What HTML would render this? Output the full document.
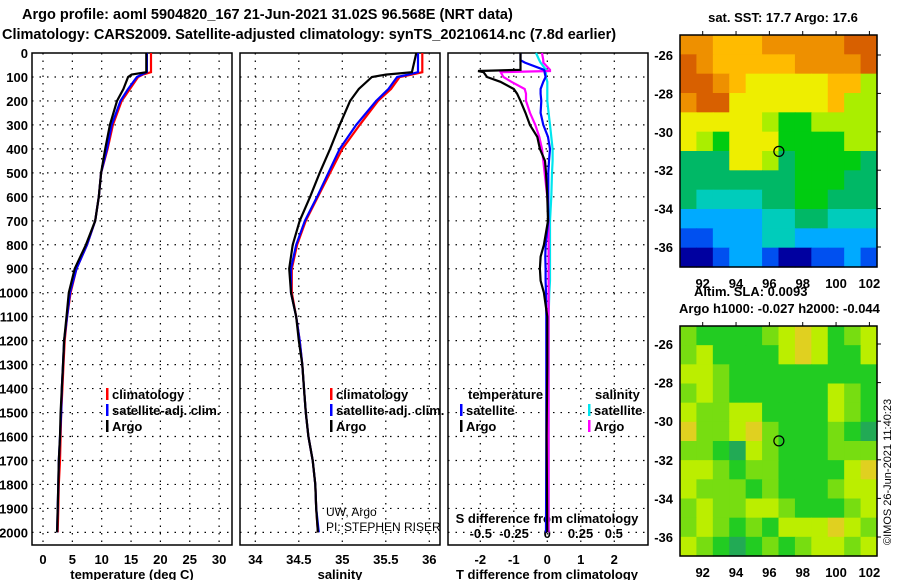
<!DOCTYPE html>
<html><head><meta charset="utf-8"><style>
body{margin:0;background:#fff;}
svg{display:block;font-family:"Liberation Sans",sans-serif;font-weight:bold;}
</style></head><body>
<svg id="c" width="900" height="580" viewBox="0 0 900 580">
<text x="22" y="19" font-size="14.5">Argo profile: aoml 5904820_167 21-Jun-2021 31.02S 96.568E (NRT data)</text>
<text x="2" y="39" font-size="14.5">Climatology: CARS2009. Satellite-adjusted climatology: synTS_20210614.nc (7.8d earlier)</text>
<text x="783" y="22" font-size="13" text-anchor="middle">sat. SST: 17.7 Argo: 17.6</text>
<text x="694" y="296" font-size="13">Altim. SLA: 0.0093</text>
<text x="679" y="313" font-size="13">Argo h1000: -0.027 h2000: -0.044</text>
<text transform="translate(891,545) rotate(-90)" font-size="11" font-weight="normal">©IMOS 26-Jun-2021 11:40:23</text>
<g id="g"></g>
</svg>
<script>
// ---------- data ----------
const depthTicks=[0,100,200,300,400,500,600,700,800,900,1000,1100,1200,1300,1400,1500,1600,1700,1800,1900,2000];
const tTicks=[0,5,10,15,20,25,30];
const sTicks=[34,34.5,35,35.5,36];
const dTTicks=[-2,-1,0,1,2];
const dSTicks=[-0.5,-0.25,0,0.25,0.5];
const lonTicks=[92,94,96,98,100,102];
const latTicks=[-26,-28,-30,-32,-34,-36];

const depths=[0,80,90,100,150,200,300,400,500,600,700,800,900,1000,1100,1200,1300,1400,1500,1600,1700,1800,1900,2000];
const tempClim=[18.4,18.4,17.0,16.2,14.8,13.4,11.9,11.0,9.9,9.5,8.9,7.5,5.7,4.7,4.1,3.7,3.5,3.3,3.1,3.0,2.9,2.7,2.6,2.5];
const tempSat=[17.7,17.7,16.8,16.0,14.5,13.2,11.7,10.9,9.9,9.5,8.9,7.5,5.7,4.6,4.1,3.6,3.4,3.2,3.1,2.9,2.7,2.6,2.5,2.4];
const tempArgo=[17.6,17.6,15.1,14.5,13.7,12.6,11.4,10.6,9.9,9.5,8.9,7.3,5.4,4.4,4.0,3.6,3.4,3.2,3.0,2.9,2.7,2.6,2.5,2.4];
const salClim=[35.92,35.92,35.80,35.66,35.56,35.41,35.20,35.00,34.86,34.72,34.58,34.48,34.42,34.42,34.47,34.51,34.54,34.56,34.58,34.61,34.66,34.69,34.70,34.72];
const salSat=[35.87,35.87,35.76,35.63,35.53,35.39,35.16,34.97,34.84,34.71,34.57,34.47,34.41,34.41,34.47,34.51,34.54,34.56,34.58,34.61,34.66,34.69,34.70,34.73];
const salArgo=[35.85,35.80,35.50,35.34,35.19,35.09,34.97,34.86,34.74,34.63,34.51,34.43,34.39,34.41,34.47,34.50,34.54,34.56,34.58,34.61,34.66,34.69,34.70,34.72];

const diffDepths=[0,30,40,70,75,80,100,120,150,170,200,250,300,350,400,450,500,600,700,800,850,900,950,1000,1100,1300,1600,2000];
const dTSat=[-0.8,-0.8,-0.67,-0.1,-0.08,-0.08,-0.05,-0.12,-0.2,-0.2,-0.18,-0.2,-0.12,0.02,0.08,0.05,0.03,0.03,0.03,-0.05,-0.06,-0.05,-0.05,-0.04,-0.03,-0.03,-0.03,-0.04];
const dTArgo=[-0.8,-0.8,-0.8,-0.8,-2.07,-1.9,-1.8,-1.4,-1.0,-0.9,-0.8,-0.65,-0.52,-0.3,-0.22,-0.07,-0.04,0.0,0.02,-0.1,-0.2,-0.22,-0.2,-0.1,0.0,0.0,-0.02,0.0];
const dSSat=[-0.085,-0.06,-0.05,-0.01,-0.01,-0.01,-0.01,0.0,0.0,0.0,0.0,0.01,0.02,0.03,0.04,0.04,0.035,0.03,0.02,0.02,0.02,0.02,0.02,0.015,0.01,0.01,0.01,0.01];
const dSArgo=[-0.04,-0.03,-0.03,0.02,0.02,-0.35,-0.33,-0.27,-0.17,-0.16,-0.16,-0.13,-0.09,-0.06,-0.04,-0.03,-0.02,0.0,0.01,0.01,0.01,0.01,0.01,0.01,0.01,0.01,0.01,0.01];

const sstGrid=[
[10,10,9,9,9,10,10,10,10,10,11,11],
[11,10,9,9,9,9,9,10,10,10,10,11],
[11,11,10,9,8,8,8,8,8,9,9,7],
[10,11,11,8,8,8,8,8,8,9,7,7],
[8,8,8,8,8,7,6,6,7,7,7,7],
[8,7,6,8,8,8,6,6,6,6,7,7],
[5,5,5,8,8,7,5,6,6,6,6,5],
[5,5,5,5,5,5,5,6,6,6,5,5],
[5,4,4,4,4,5,5,6,6,5,5,5],
[3,3,3,3,3,4,4,5,5,4,4,4],
[2,2,3,3,3,4,4,3,3,3,3,3],
[1,1,2,3,3,2,1,1,2,2,3,2]];
const slaGrid=[
[3,2,2,2,2,3,4,5,4,2,3,4],
[3,4,2,2,2,2,4,5,4,2,2,4],
[4,4,3,2,2,2,2,2,2,2,2,2],
[3,4,3,2,2,2,2,2,2,4,3,2],
[4,3,3,4,4,2,2,2,2,4,3,2],
[5,3,3,4,5,3,2,2,2,3,2,1],
[3,3,2,1,4,3,2,2,2,3,3,3],
[4,4,3,2,3,3,2,2,2,2,4,5],
[4,3,3,3,2,3,2,2,2,3,4,4],
[3,4,3,3,4,4,3,2,2,2,3,4],
[3,4,3,2,3,2,4,4,4,5,4,3],
[4,3,2,1,2,3,2,3,4,4,3,4]];
const floatLon=96.57, floatLat=-31.02;

// ---------- helpers ----------
const NS="http://www.w3.org/2000/svg";
const G=document.getElementById('g');
function mk(tag,attrs){const e=document.createElementNS(NS,tag);for(const k in attrs)e.setAttribute(k,attrs[k]);G.appendChild(e);return e;}
const yD=d=>53+d*0.2397;
const xT=t=>43+t*5.87;
const xS=s=>255.3+(s-34)*87;
const xDT=d=>547.3+d*33.5;
const xDS=d=>547.3+d*133;
const PB=545;

function panel(x0,x1,name){
  const r=mk('rect',{x:x0,y:53,width:x1-x0,height:PB-53,fill:'none',stroke:'#000','stroke-width':1.5});
  
  
  depthTicks.forEach(d=>{
    if(d===0)return;
    const l=mk('line',{x1:x0,x2:x1,y1:yD(d),y2:yD(d),stroke:'#000','stroke-dasharray':'1.5,6','stroke-width':1.2});
    
    
  });
}
function vgrid(x,name){
  const l=mk('line',{x1:x,x2:x,y1:53,y2:PB,stroke:'#000','stroke-dasharray':'1.5,6','stroke-width':1.2});
  
  
}
function txt(x,y,s,anchor,size,name){
  const t=mk('text',{x:x,y:y,'font-size':size||13,'text-anchor':anchor||'start'});
  t.textContent=s;
  
  
  return t;
}
function line(xs,ys,xf,color,name){
  const pts=xs.map((v,i)=>xf(v).toFixed(1)+','+yD(ys[i]).toFixed(1)).join(' ');
  const p=mk('polyline',{points:pts,fill:'none',stroke:color,'stroke-width':2.2});
  
  
}
function legItem(x,y,color,label,name){
  const r=mk('rect',{x:x,y:y-11,width:2.5,height:12,fill:color});
  
  
  txt(x+6,y,label,'start',13,name);
}

// ---------- panels ----------
panel(32,232,'temperature-panel');
panel(240,440,'salinity-panel');
panel(448,648,'difference-panel');
depthTicks.forEach(d=>txt(28,yD(d)+5,String(d),'end',13,'depth-tick-label'));
tTicks.forEach(t=>{vgrid(xT(t),'temperature-gridline');txt(xT(t),564,String(t),'middle',13,'temperature-tick-label');});
sTicks.forEach(s=>{vgrid(xS(s),'salinity-gridline');txt(xS(s),564,String(s),'middle',13,'salinity-tick-label');});
dTTicks.forEach(t=>{vgrid(xDT(t),'t-diff-gridline');txt(xDT(t),564,String(t),'middle',13,'t-diff-tick-label');});
dSTicks.forEach(s=>txt(xDS(s),538,String(s),'middle',13,'s-diff-tick-label'));
txt(132,579,'temperature (deg C)','middle',13,'temperature-axis-title');
txt(340,579,'salinity','middle',13,'salinity-axis-title');
txt(547,579,'T difference from climatology','middle',13,'t-diff-axis-title');
txt(547,523,'S difference from climatology','middle',13,'s-diff-axis-title');

line(tempClim,depths,xT,'#f00','temp-climatology-line');
line(tempSat,depths,xT,'#00f','temp-satellite-line');
line(tempArgo,depths,xT,'#000','temp-argo-line');
line(salClim,depths,xS,'#f00','sal-climatology-line');
line(salSat,depths,xS,'#00f','sal-satellite-line');
line(salArgo,depths,xS,'#000','sal-argo-line');
line(dSSat,diffDepths,xDS,'#00e5ee','s-diff-satellite-line');
line(dSArgo,diffDepths,xDS,'#f0f','s-diff-argo-line');
line(dTSat,diffDepths,xDT,'#00f','t-diff-satellite-line');
line(dTArgo,diffDepths,xDT,'#000','t-diff-argo-line');

legItem(106,399,'#f00','climatology','legend-climatology');
legItem(106,415,'#00f','satellite-adj. clim.','legend-satellite');
legItem(106,431,'#000','Argo','legend-argo');
legItem(330,399,'#f00','climatology','legend-climatology-2');
legItem(330,415,'#00f','satellite-adj. clim.','legend-satellite-2');
legItem(330,431,'#000','Argo','legend-argo-2');
txt(468,399,'temperature','start',13,'legend-temperature-header');
legItem(460,415,'#00f','satellite','legend-t-satellite');
legItem(460,431,'#000','Argo','legend-t-argo');
txt(595,399,'salinity','start',13,'legend-salinity-header');
legItem(588,415,'#00e5ee','satellite','legend-s-satellite');
legItem(588,431,'#f0f','Argo','legend-s-argo');
const c1=txt(326,516,'UW, Argo','start',12,'institution-label');c1.setAttribute('font-weight','normal');
const c2=txt(326,531,'PI: STEPHEN RISER','start',12,'pi-label');c2.setAttribute('font-weight','normal');

// ---------- maps ----------
const sstColors=['#000070','#0000a0','#0050f0','#00aaff','#00ccbb','#00b866','#00cc11','#aaee00','#eeee00','#ffbb00','#ee9000','#d86000'];
const slaColors=['#000','#22aa55','#22cc22','#77dd11','#bbee00','#e0d020'];
function map(y0,y1,grid,colors,lat26,lat36,name,labY){
  const x0=680,x1=877,lonX=l=>702.7+(l-92)*16.67,latY=l=>lat26+(l+26)*(lat36-lat26)/-10;
  const rows=grid.length,cols=grid[0].length,cw=(x1-x0)/cols,ch=(y1-y0)/rows;
  grid.forEach((row,i)=>row.forEach((v,j)=>{
    const r=mk('rect',{x:x0+j*cw,y:y0+i*ch,width:cw+0.6,height:ch+0.6,fill:colors[v]});
    
    
  }));
  const b=mk('rect',{x:x0,y:y0,width:x1-x0,height:y1-y0,fill:'none',stroke:'#000','stroke-width':1.5});
  
  
  lonTicks.forEach(l=>{txt(lonX(l),labY,String(l),'middle',13,name+'-lon-label');
    const t=mk('line',{x1:lonX(l),x2:lonX(l),y1:y0-4,y2:y0,stroke:'#000'});
    
    });
  latTicks.forEach(l=>{txt(673,latY(l)+5,String(l),'end',13,name+'-lat-label');
    const t=mk('line',{x1:x1,x2:x1+4,y1:latY(l),y2:latY(l),stroke:'#000'});
    
    });
  const c=mk('circle',{cx:lonX(floatLon),cy:latY(floatLat),r:5,fill:'none',stroke:'#000','stroke-width':1.2});
  
  
}
map(35,267,sstGrid,sstColors,55,247,'sst-map',288);
map(326,556,slaGrid,slaColors,344,537,'sla-map',577);
</script>
</body></html>
